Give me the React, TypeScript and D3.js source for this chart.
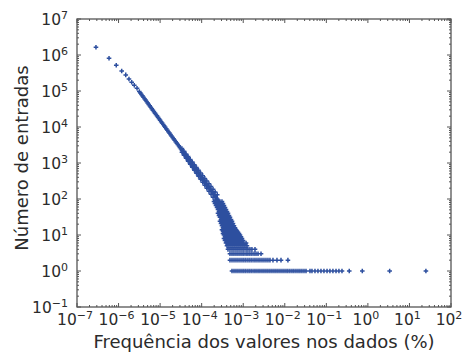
import * as d3 from 'd3'

// first integer multiplicities (k = 1..9), read point by point
const headFreq = [2.86e-7, 5.9e-7, 8.8e-7, 1.19e-6, 1.49e-6, 1.78e-6, 2.07e-6, 2.39e-6, 2.78e-6]
const headCount = [1.64e6, 8.1e5, 5.2e5, 3.6e5, 2.8e5, 2.15e5, 1.75e5, 1.44e5, 1.19e5]

// the continuous part of the power-law curve
const curveFreq = [
  3.16e-6, 3.35e-6, 3.55e-6, 3.76e-6, 3.98e-6, 4.22e-6, 4.47e-6, 4.73e-6, 5.01e-6, 5.31e-6,
  5.62e-6, 5.96e-6, 6.31e-6, 6.68e-6, 7.08e-6, 7.5e-6, 7.94e-6, 8.41e-6, 8.91e-6, 9.44e-6,
  1.0e-5, 1.06e-5, 1.12e-5, 1.19e-5, 1.26e-5, 1.33e-5, 1.41e-5, 1.5e-5, 1.58e-5, 1.68e-5,
  1.78e-5, 1.88e-5, 2.0e-5, 2.11e-5, 2.24e-5, 2.37e-5, 2.51e-5, 2.66e-5, 2.82e-5, 2.99e-5,
  3.16e-5, 3.35e-5, 3.55e-5, 3.76e-5, 3.98e-5, 4.22e-5, 4.47e-5, 4.73e-5, 5.01e-5, 5.31e-5,
  5.62e-5, 5.96e-5, 6.31e-5, 6.68e-5, 7.08e-5, 7.5e-5, 7.94e-5, 8.41e-5, 8.91e-5, 9.44e-5,
  1.0e-4, 1.06e-4, 1.12e-4, 1.19e-4, 1.26e-4, 1.33e-4, 1.41e-4, 1.5e-4, 1.58e-4, 1.68e-4,
  1.78e-4, 1.88e-4, 2.0e-4, 2.11e-4, 2.24e-4, 2.37e-4, 2.51e-4, 2.66e-4,
]
const curveCount = [
  9.7e4, 8.83e4, 8.05e4, 7.35e4, 6.7e4, 6.12e4, 5.6e4, 5.09e4, 4.65e4, 4.24e4,
  3.87e4, 3.53e4, 3.22e4, 2.94e4, 2.68e4, 2.44e4, 2.23e4, 2.04e4, 1.86e4, 1.69e4,
  1.55e4, 1.41e4, 1.29e4, 1.17e4, 1.07e4, 9770, 8900, 8140, 7400, 6780,
  6200, 5640, 5100, 4700, 4300, 3910, 3600, 3250, 3000, 2710,
  2470, 2250, 2060, 1880, 1710, 1560, 1430, 1300, 1190, 1080,
  990, 900, 820, 750, 680, 624, 570, 520, 470, 433,
  390, 360, 330, 300, 273, 249, 228, 208, 190, 173,
  158, 144, 131, 120, 109, 100, 91, 83,
]

// scatter on both sides of the curve where it thickens
const spreadFreq = [
  3.35e-5, 3.76e-5, 4.22e-5, 4.73e-5, 5.31e-5, 5.96e-5, 6.68e-5, 7.5e-5, 8.41e-5,
  9.44e-5, 1.06e-4, 1.19e-4, 1.33e-4, 1.5e-4, 1.68e-4, 1.88e-4, 2.11e-4, 2.37e-4,
]
const spreadHigh = [2540, 2130, 1790, 1510, 1260, 1060, 893, 750, 631, 530, 445, 374, 314, 264, 222, 186, 157, 132]
const spreadLow = [2000, 1650, 1360, 1120, 925, 764, 630, 519, 429, 353, 291, 240, 198, 163, 135, 111, 92, 76]

// low counts come in discrete rows
const rowCounts = [
  85, 75, 66, 58, 51, 45, 40, 35, 31, 27, 24, 21, 18, 16, 14, 13, 12, 11, 10, 9, 8, 7, 6, 5, 4, 3, 2, 1,
]
const rowFreqs = [
  [1.98e-4, 2.21e-4, 2.47e-4, 2.76e-4, 3.08e-4],
  [2.09e-4, 2.34e-4, 2.61e-4, 2.92e-4, 3.26e-4],
  [2.21e-4, 2.47e-4, 2.76e-4, 3.08e-4, 3.44e-4],
  [2.34e-4, 2.61e-4, 2.92e-4, 3.26e-4, 3.64e-4],
  [2.47e-4, 2.76e-4, 3.08e-4, 3.44e-4, 3.85e-4],
  [2.61e-4, 2.92e-4, 3.26e-4, 3.64e-4, 4.07e-4],
  [2.47e-4, 2.76e-4, 3.08e-4, 3.44e-4, 3.85e-4, 4.3e-4],
  [2.61e-4, 2.92e-4, 3.26e-4, 3.64e-4, 4.07e-4, 4.54e-4],
  [2.76e-4, 3.08e-4, 3.44e-4, 3.85e-4, 4.3e-4, 4.8e-4],
  [2.92e-4, 3.26e-4, 3.64e-4, 4.07e-4, 4.54e-4, 5.08e-4],
  [2.76e-4, 3.08e-4, 3.44e-4, 3.85e-4, 4.3e-4, 4.8e-4, 5.37e-4],
  [2.92e-4, 3.26e-4, 3.64e-4, 4.07e-4, 4.54e-4, 5.08e-4, 5.67e-4],
  [3.08e-4, 3.44e-4, 3.85e-4, 4.3e-4, 4.8e-4, 5.37e-4, 5.99e-4],
  [3.26e-4, 3.64e-4, 4.07e-4, 4.54e-4, 5.08e-4, 5.67e-4, 6.33e-4],
  [3.08e-4, 3.44e-4, 3.85e-4, 4.3e-4, 4.8e-4, 5.37e-4, 5.99e-4, 6.7e-4],
  [3.26e-4, 3.64e-4, 4.07e-4, 4.54e-4, 5.08e-4, 5.67e-4, 6.33e-4, 7.08e-4],
  [3.44e-4, 3.85e-4, 4.3e-4, 4.8e-4, 5.37e-4, 5.99e-4, 6.7e-4, 7.48e-4],
  [3.26e-4, 3.64e-4, 4.07e-4, 4.54e-4, 5.08e-4, 5.67e-4, 6.33e-4, 7.08e-4, 7.91e-4],
  [3.44e-4, 3.85e-4, 4.3e-4, 4.8e-4, 5.37e-4, 5.99e-4, 6.7e-4, 7.48e-4, 8.36e-4],
  [3.64e-4, 4.07e-4, 4.54e-4, 5.08e-4, 5.67e-4, 6.33e-4, 7.08e-4, 7.91e-4, 8.83e-4],
  [3.44e-4, 3.85e-4, 4.3e-4, 4.8e-4, 5.37e-4, 5.99e-4, 6.7e-4, 7.48e-4, 8.36e-4, 9.34e-4],
  [3.64e-4, 4.07e-4, 4.54e-4, 5.08e-4, 5.67e-4, 6.33e-4, 7.08e-4, 7.91e-4, 8.83e-4, 9.87e-4],
  [3.85e-4, 4.3e-4, 4.8e-4, 5.37e-4, 5.99e-4, 6.7e-4, 7.48e-4, 8.36e-4, 9.34e-4, 1.04e-3, 1.17e-3],
  [4.07e-4, 4.54e-4, 5.08e-4, 5.67e-4, 6.33e-4, 7.08e-4, 7.91e-4, 8.83e-4, 9.87e-4, 1.1e-3, 1.23e-3],
  [
    4.3e-4, 4.8e-4, 5.37e-4, 5.99e-4, 6.7e-4, 7.48e-4, 8.36e-4, 9.34e-4, 1.04e-3, 1.17e-3, 1.3e-3,
    1.45e-3, 1.62e-3, 1.92e-3,
  ],
  [
    4.8e-4, 5.37e-4, 5.99e-4, 6.7e-4, 7.48e-4, 8.36e-4, 9.34e-4, 1.04e-3, 1.17e-3, 1.3e-3, 1.45e-3,
    1.62e-3, 1.82e-3, 2.03e-3, 2.27e-3, 2.68e-3,
  ],
  [
    4.8e-4, 5.37e-4, 6.0e-4, 6.7e-4, 7.48e-4, 8.36e-4, 9.34e-4, 1.04e-3, 1.16e-3, 1.3e-3, 1.45e-3,
    1.62e-3, 1.82e-3, 2.03e-3, 2.27e-3, 2.53e-3, 2.83e-3, 3.16e-3, 3.53e-3, 3.94e-3, 4.4e-3,
    5.2e-3, 6.49e-3, 8.11e-3, 1.19e-2,
  ],
  [
    5.37e-4, 6.0e-4, 6.7e-4, 7.48e-4, 8.36e-4, 9.34e-4, 1.04e-3, 1.16e-3, 1.3e-3, 1.45e-3,
    1.62e-3, 1.82e-3, 2.03e-3, 2.27e-3, 2.53e-3, 2.83e-3, 3.16e-3, 3.53e-3, 3.94e-3, 4.4e-3,
    4.92e-3, 5.5e-3, 6.14e-3, 6.86e-3, 7.67e-3, 8.57e-3, 9.57e-3, 1.07e-2, 1.19e-2, 1.33e-2,
    1.49e-2, 1.66e-2, 1.86e-2, 2.08e-2, 2.32e-2, 2.59e-2, 2.9e-2, 3.24e-2,
    4.04e-2, 4.51e-2, 5.33e-2, 6.29e-2, 7.43e-2, 8.77e-2, 0.104, 0.122, 0.144, 0.171, 0.201, 0.238,
    0.356, 0.733, 3.34, 24.9,
  ],
]

const xExponents = [-7, -6, -5, -4, -3, -2, -1, 0, 1, 2]
const yExponents = [-1, 0, 1, 2, 3, 4, 5, 6, 7]

const W = 464
const H = 356
const plot = { left: 77, right: 451, top: 19, bottom: 307 }
const blue = '#2d4f9f'
const axisColor = '#555'
const textColor = '#2b2b2b'
const font = '"DejaVu Sans", sans-serif'

const sup = (e: number) => (e < 0 ? '\u2212' + Math.abs(e) : String(e))

export default function App() {
  const x = d3.scaleLog().domain([1e-7, 1e2]).range([plot.left, plot.right])
  const y = d3.scaleLog().domain([1e-1, 1e7]).range([plot.bottom, plot.top])

  const points: [number, number][] = []
  headFreq.forEach((f, i) => points.push([f, headCount[i]]))
  curveFreq.forEach((f, i) => points.push([f, curveCount[i]]))
  spreadFreq.forEach((f, i) => {
    points.push([f, spreadHigh[i]])
    points.push([f, spreadLow[i]])
  })
  rowFreqs.forEach((row, i) => row.forEach((f) => points.push([f, rowCounts[i]])))

  const r = 2.3
  const crosses = points
    .map(([f, c]) => {
      const px = x(f)
      const py = y(c)
      return `M${px - r},${py}H${px + r}M${px},${py - r}V${py + r}`
    })
    .join('')

  const isMajor = (v: number) => Math.abs(Math.log10(v) - Math.round(Math.log10(v))) < 1e-6
  const xTicks = x.ticks()
  const yTicks = y.ticks()

  let tickPath = ''
  xTicks.forEach((v) => {
    const len = isMajor(v) ? 4 : 2
    const px = x(v)
    tickPath += `M${px},${plot.bottom}V${plot.bottom - len}M${px},${plot.top}V${plot.top + len}`
  })
  yTicks.forEach((v) => {
    const len = isMajor(v) ? 4 : 2
    const py = y(v)
    tickPath += `M${plot.left},${py}H${plot.left + len}M${plot.right},${py}H${plot.right - len}`
  })

  return (
    <svg width={W} height={H} style={{ position: 'absolute', left: 0, top: 0, background: '#fff' }}>
      <path d={crosses} stroke={blue} strokeWidth={1.5} fill="none" />
      <path d={tickPath} stroke={axisColor} strokeWidth={1} fill="none" />
      <rect
        x={plot.left}
        y={plot.top}
        width={plot.right - plot.left}
        height={plot.bottom - plot.top}
        fill="none"
        stroke={axisColor}
        strokeWidth={1.3}
      />
      <g fontFamily={font} fill={textColor}>
        {yExponents.map((e) => (
          <text key={'y' + e} x={68} y={y(Math.pow(10, e)) + 5.6} fontSize={15.5} textAnchor="end">
            10
            <tspan dy={-6} fontSize={11}>
              {sup(e)}
            </tspan>
          </text>
        ))}
        {xExponents.map((e) => (
          <text key={'x' + e} x={x(Math.pow(10, e)) - 2} y={324.5} fontSize={15.5} textAnchor="middle">
            10
            <tspan dy={-6} fontSize={11}>
              {sup(e)}
            </tspan>
          </text>
        ))}
        <text x={(plot.left + plot.right) / 2} y={348} fontSize={18} textAnchor="middle">
          Frequência dos valores nos dados (%)
        </text>
        <text transform="rotate(-90)" x={-158} y={28} fontSize={18} textAnchor="middle">
          Número de entradas
        </text>
      </g>
    </svg>
  )
}
